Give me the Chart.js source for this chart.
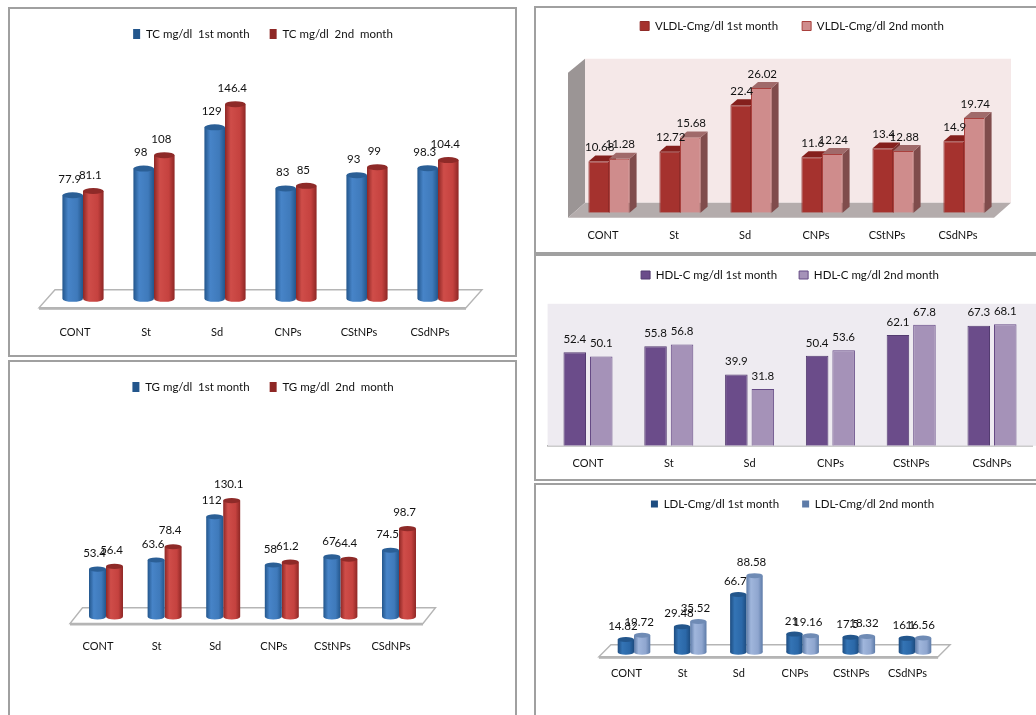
<!DOCTYPE html>
<html>
<head>
<meta charset="utf-8">
<script src="https://cdn.jsdelivr.net/npm/chart.js@4"></script>
<style>
  html, body { margin: 0; padding: 0; background: #fff; overflow: hidden; width: 1036px; height: 715px; }
  #page { position: relative; width: 1036px; height: 715px; overflow: hidden; filter: blur(0.45px); }
  .frame { position: absolute; box-sizing: border-box; border: 2px solid #a0a0a0; }
  canvas { position: absolute; }
</style>
</head>
<body>
<div id="page"></div>
<script>
  const categories = ['CONT', 'St', 'Sd', 'CNPs', 'CStNPs', 'CSdNPs'];

  const tc1 = [77.9, 98, 129, 83, 93, 98.3];
  const tc2 = [81.1, 108, 146.4, 85, 99, 104.4];
  const tg1 = [53.4, 63.6, 112, 58, 67, 74.5];
  const tg2 = [56.4, 78.4, 130.1, 61.2, 64.4, 98.7];
  const vldl1 = [10.68, 12.72, 22.4, 11.6, 13.4, 14.9];
  const vldl2 = [11.28, 15.68, 26.02, 12.24, 12.88, 19.74];
  const hdl1 = [52.4, 55.8, 39.9, 50.4, 62.1, 67.3];
  const hdl2 = [50.1, 56.8, 31.8, 53.6, 67.8, 68.1];
  const ldl1 = [14.82, 29.48, 66.7, 21, 17.5, 16.1];
  const ldl2 = [19.72, 35.52, 88.58, 19.16, 18.32, 16.56];

  const FONT = 'Lato, Carlito, sans-serif';
  const TEXT = '#111';
  const LEGEND_SIZE = 11.5;
  const page = document.getElementById('page');

  // horizontal shading so a flat bar reads as a cylinder
  function tubeFill(ctx, look, k) {
    const c = look.colors[k];
    if (ctx.type !== 'data') return c.solid;
    const chart = ctx.chart;
    const xs = chart.scales.x;
    if (!xs || !chart.chartArea) return c.solid;
    const slot = xs.width / categories.length * look.catPct / 2;
    const left = xs.getPixelForValue(ctx.dataIndex) + (k - 1) * slot;
    if (!isFinite(left) || !isFinite(slot)) return c.solid;
    const g = chart.ctx.createLinearGradient(left, 0, left + slot, 0);
    g.addColorStop(0, c.edge);
    g.addColorStop(0.28, c.light);
    g.addColorStop(0.72, c.solid);
    g.addColorStop(1, c.edge);
    return g;
  }

  function polygon(c, pts, fill) {
    c.beginPath();
    pts.forEach((p, i) => (i ? c.lineTo(p[0], p[1]) : c.moveTo(p[0], p[1])));
    c.closePath();
    c.fillStyle = fill;
    c.fill();
  }

  function panelPlugin(look) {
    return {
      id: 'panelDecor',
      afterLayout(chart) {
        // legend sits where the original has it, independent of the plot width
        const l = chart.legend;
        const dx = look.legendX - look.x - (l.left + l.right) / 2;
        const top = look.legendY - look.y - look.legendPad - LEGEND_SIZE / 2;
        const dy = top - l.top;
        l.left += dx; l.right += dx; l.top += dy; l.bottom += dy;
      },
      beforeDatasetsDraw(chart) {
        const c = chart.ctx;
        const a = chart.chartArea;
        const base = a.bottom;
        c.save();
        if (look.kind === 'tube') {
          const f = look.floor;
          const L = a.left + f.left, R = a.right + f.right;
          polygon(c, [[L, base + f.front], [R, base + f.front], [R + f.skew, base + f.back], [L + f.skew, base + f.back]], '#fff');
          c.strokeStyle = '#b5b5b5';
          c.lineWidth = 1.4;
          c.stroke();
          c.fillStyle = '#b5b5b5';
          c.fillRect(L, base + f.front, R - L, 2);
          chart.getSortedVisibleDatasetMetas().forEach((meta) => meta.data.forEach((el) => {
            c.beginPath();
            c.ellipse(el.x, el.base, el.width / 2, look.ry, 0, 0, Math.PI * 2);
            c.fillStyle = el.options.backgroundColor;
            c.fill();
          }));
        } else if (look.kind === 'box') {
          const f = look.floor;
          const L = a.left + f.left, R = a.right + f.left;
          const bx = L + f.skew, by = base + f.back, fy = base + f.front;
          polygon(c, [[bx, base + f.wallTop], [R + f.skew, base + f.wallTop], [R + f.skew, by], [bx, by]], '#f5e8e8');
          polygon(c, [[L, base + f.wallFront], [bx, base + f.wallTop], [bx, by], [L, fy]], '#9b9595');
          polygon(c, [[L, fy], [R, fy], [R + f.skew, by], [bx, by]], '#b4acac');
          const dx = look.depthX, dy = look.depthY;
          chart.getSortedVisibleDatasetMetas().slice().sort((m, n) => m.index - n.index).forEach((meta) => {
            const s = look.colors[meta.index];
            meta.data.forEach((el) => {
              const r = el.x + el.width / 2, l = el.x - el.width / 2;
              polygon(c, [[r, el.y], [r + dx, el.y - dy], [r + dx, el.base - dy], [r, el.base]], s.side);
              polygon(c, [[l, el.y], [r, el.y], [r + dx, el.y - dy], [l + dx, el.y - dy]], s.top);
            });
          });
        } else {
          c.fillStyle = '#eeebf1';
          c.fillRect(a.left, base - look.wallHeight, look.w - a.left, look.wallHeight);
        }
        c.restore();
      },
      afterDatasetsDraw(chart) {
        const c = chart.ctx;
        c.save();
        chart.getSortedVisibleDatasetMetas().slice().sort((m, n) => m.index - n.index).forEach((meta) => {
          const vals = chart.data.datasets[meta.index].data;
          meta.data.forEach((el, i) => {
            if (look.kind === 'tube') {
              c.beginPath();
              c.ellipse(el.x, el.y, el.width / 2, look.ry, 0, 0, Math.PI * 2);
              c.fillStyle = look.colors[meta.index].top;
              c.fill();
            }
            c.font = '11.5px ' + FONT;
            c.fillStyle = TEXT;
            c.textAlign = 'center';
            c.textBaseline = 'middle';
            c.fillText(String(vals[i]), el.x + look.labelDx, el.y + look.labelDy);
          });
        });
        c.restore();
      }
    };
  }

  function makeChart(names, first, second, look) {
    const frame = document.createElement('div');
    frame.className = 'frame';
    frame.style.cssText = `left:${look.x}px;top:${look.y}px;width:${look.frameW}px;height:${look.frameH}px`;
    page.appendChild(frame);

    const canvas = document.createElement('canvas');
    canvas.width = look.w;
    canvas.height = look.h;
    canvas.style.left = look.x + 'px';
    canvas.style.top = look.y + 'px';
    page.appendChild(canvas);

    const legendBlock = LEGEND_SIZE + look.legendPad + 10;
    const yMax = (look.base - look.y - legendBlock) / look.ppu;
    const solid = look.kind === 'tube';

    const dataset = (label, data, k) => ({
      label,
      data,
      backgroundColor: solid ? (ctx) => tubeFill(ctx, look, k) : look.colors[k].solid,
      borderColor: solid ? 'rgba(0,0,0,0)' : look.colors[k].border,
      borderWidth: solid ? 0 : look.border,
      barPercentage: look.barPct,
      categoryPercentage: look.catPct
    });

    return new Chart(canvas, {
      type: 'bar',
      data: {
        labels: categories,
        datasets: [dataset(names[0], first, 0), dataset(names[1], second, 1)]
      },
      options: {
        responsive: false,
        animation: false,
        layout: {
          padding: {
            top: 0,
            left: look.plotL - look.x,
            right: look.x + look.w - look.plotR,
            bottom: look.y + look.h - look.base - 2 * look.tickPad - 14
          }
        },
        plugins: {
          tooltip: { enabled: false },
          legend: {
            position: 'top',
            labels: {
              color: TEXT,
              font: { family: FONT, size: LEGEND_SIZE },
              boxWidth: look.boxW,
              boxHeight: look.boxH,
              padding: look.legendPad
            }
          }
        },
        scales: {
          x: {
            grid: { display: false, drawTicks: false },
            border: look.kind === 'flat' ? { display: true, color: '#9a9a9a', width: 1.5 } : { display: false },
            ticks: {
              color: TEXT,
              font: { family: FONT, size: 11 },
              padding: look.tickPad,
              labelOffset: look.tickShift,
              maxRotation: 0,
              autoSkip: false
            }
          },
          y: { display: false, min: 0, max: yMax }
        }
      },
      plugins: [panelPlugin(look)]
    });
  }

  const blue = { solid: '#3f7abb', light: '#4784c8', edge: '#23568c', top: '#2b5f96' };
  const red = { solid: '#c5423f', light: '#cf4d49', edge: '#8e2725', top: '#8e2a28' };

  makeChart(['TC mg/dl  1st month', 'TC mg/dl  2nd  month'], tc1, tc2, {
    kind: 'tube', x: 8, y: 7, w: 509, h: 380, frameW: 509, frameH: 350,
    plotL: 47.5, plotR: 473.5, base: 298, ppu: 1.325, catPct: 0.58, barPct: 1, ry: 3,
    tickPad: 27, tickShift: -8, labelDx: -3, labelDy: -16,
    legendX: 263, legendY: 34, legendPad: 20, boxW: 7, boxH: 10,
    floor: { left: -8.5, right: -7.5, skew: 16, front: 9, back: -9 },
    colors: [blue, red]
  });

  makeChart(['TG mg/dl  1st month', 'TG mg/dl  2nd  month'], tg1, tg2, {
    kind: 'tube', x: 8, y: 360, w: 509, h: 355, frameW: 509, frameH: 370,
    plotL: 76.7, plotR: 428.3, base: 616, ppu: 0.89, catPct: 0.58, barPct: 1, ry: 2.6,
    tickPad: 23, tickShift: -8, labelDx: -3, labelDy: -16,
    legendX: 263, legendY: 387, legendPad: 20, boxW: 7, boxH: 10,
    floor: { left: -6.7, right: -5.3, skew: 12.5, front: 6.7, back: -9 },
    colors: [blue, red]
  });

  makeChart(['VLDL-Cmg/dl 1st month', 'VLDL-Cmg/dl 2nd month'], vldl1, vldl2, {
    kind: 'box', x: 534, y: 6, w: 502, h: 280, frameW: 520, frameH: 248,
    plotL: 573.5, plotR: 999.5, base: 212, ppu: 4.775, catPct: 0.58, barPct: 1,
    tickPad: 16, tickShift: -6, labelDx: 1, labelDy: -14, border: 1,
    depthX: 7, depthY: 6,
    legendX: 792, legendY: 26, legendPad: 24, boxW: 9, boxH: 9,
    floor: { left: -5.5, skew: 17, front: 5, back: -10, wallTop: -154, wallFront: -140 },
    colors: [
      { solid: '#a5322e', border: '#8f2b28', side: '#78302d', top: '#85201d' },
      { solid: '#cf8c8c', border: '#a9403d', side: '#804c4c', top: '#a06a6a' }
    ]
  });

  makeChart(['HDL-C mg/dl 1st month', 'HDL-C mg/dl 2nd month'], hdl1, hdl2, {
    kind: 'flat', x: 534, y: 254, w: 502, h: 240, frameW: 520, frameH: 227,
    plotL: 547.6, plotR: 1032.4, base: 445, ppu: 1.775, catPct: 0.656, barPct: 0.85,
    tickPad: 11, tickShift: 0, labelDx: 0, labelDy: -13, border: 1, wallHeight: 142,
    legendX: 790, legendY: 275, legendPad: 22, boxW: 9, boxH: 8,
    colors: [
      { solid: '#6b4c8a', border: '#533b70' },
      { solid: '#a592b8', border: '#654a85' }
    ]
  });

  makeChart(['LDL-Cmg/dl 1st month', 'LDL-Cmg/dl 2nd month'], ldl1, ldl2, {
    kind: 'tube', x: 534, y: 483, w: 502, h: 232, frameW: 520, frameH: 250,
    plotL: 605.9, plotR: 943.1, base: 651.5, ppu: 0.86, catPct: 0.58, barPct: 1, ry: 2.5,
    tickPad: 14.5, tickShift: -7.5, labelDx: -3, labelDy: -13,
    legendX: 792.5, legendY: 504, legendPad: 23, boxW: 7, boxH: 7,
    floor: { left: -7, right: -5, skew: 12, front: 4.5, back: -7.5 },
    colors: [
      { solid: '#2b68a8', light: '#3474b5', edge: '#1d4c80', top: '#23568c' },
      { solid: '#8fa6cf', light: '#a0b6dc', edge: '#5d7ba8', top: '#6f8bb5' }
    ]
  });
</script>
</body>
</html>
